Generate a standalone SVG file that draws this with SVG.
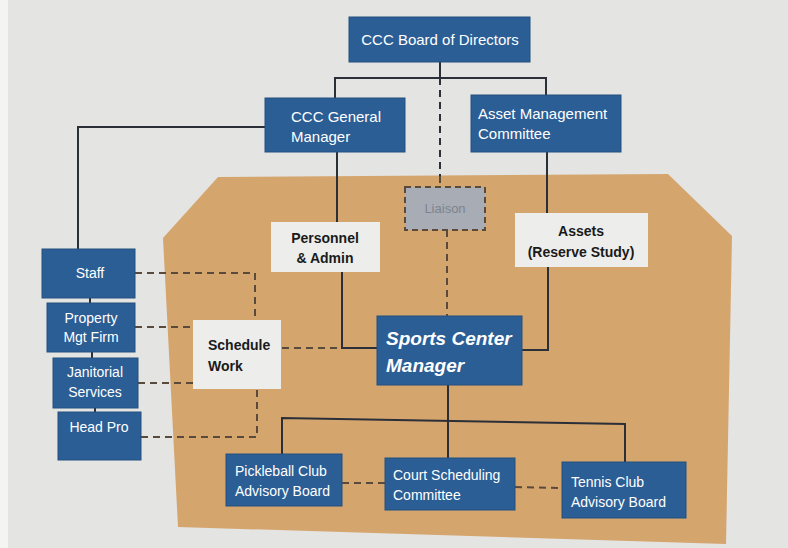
<svg xmlns="http://www.w3.org/2000/svg" width="788" height="548" viewBox="0 0 788 548">
<style>
.blue{fill:#2b5e95;stroke:#24507f;stroke-width:1}
.wt{fill:#ffffff;font-family:"Liberation Sans",Arial,sans-serif;font-size:15px}
.ws{fill:#ffffff;font-family:"Liberation Sans",Arial,sans-serif;font-size:14px}
.big{fill:#ffffff;font-family:"Liberation Sans",Arial,sans-serif;font-size:19px;font-weight:bold;font-style:italic}
.light{fill:#ededeb}
.bt{fill:#1a1a1a;font-family:"Liberation Sans",Arial,sans-serif;font-size:14px;font-weight:bold}
.ln{fill:none;stroke:#2b2f38;stroke-width:2}
.ds{fill:none;stroke:#5a4a3c;stroke-width:2;stroke-dasharray:7,5}
.dk{fill:none;stroke:#2b2f38;stroke-width:2;stroke-dasharray:7,5}
</style>
<rect width="788" height="548" fill="#e4e4e2"/>
<rect x="0" y="0" width="8" height="548" fill="#f4f4f3"/>
<polygon points="218,177 668,174 732,236 726,544 178,527 163,238" fill="#d5a56e"/>
<g id="connectors">
<polyline class="ln" points="440,62 440,78"/>
<polyline class="ln" points="335,98 335,78 546,78 546,95"/>
<polyline class="dk" points="440,78 440,176"/>
<polyline class="ds" points="440,176 440,186"/>
<polyline class="ln" points="265,127 78,127 78,249"/>
<polyline class="ln" points="90,298 90,303"/>
<polyline class="ln" points="92,352 92,358"/>
<polyline class="ln" points="95,408 95,412"/>
<polyline class="ln" points="337,152 337,222"/>
<polyline class="ln" points="342,272 342,348 377,348"/>
<polyline class="ds" points="282,348 342,348"/>
<polyline class="ln" points="547,152 547,213"/>
<polyline class="ln" points="548,267 548,350 522,350"/>
<polyline class="ds" points="447,230 447,316"/>
<polyline class="ds" points="135,273 255,273 255,320"/>
<polyline class="ds" points="135,327 193,327"/>
<polyline class="ds" points="138,383 193,383"/>
<polyline class="ds" points="141,437 257,437 257,389"/>
<polyline class="ln" points="448,385 448,420"/>
<polyline class="ln" points="282,454 282,418 625,424 625,462"/>
<polyline class="ln" points="448,420 448,458"/>
<polyline class="ds" points="342,483 385,483"/>
<polyline class="ds" points="515,487 562,488"/>
</g>
<g id="board"><rect class="blue" x="349" y="17" width="181" height="45"/><text class="wt" x="440" y="45" text-anchor="middle">CCC Board of Directors</text></g>
<g id="gm"><rect class="blue" x="265" y="98" width="140" height="54"/><text class="wt" x="291" y="122">CCC General</text><text class="wt" x="291" y="142">Manager</text></g>
<g id="amc"><rect class="blue" x="471" y="95" width="150" height="57"/><text class="wt" x="478" y="119">Asset Management</text><text class="wt" x="478" y="139">Committee</text></g>
<g id="liaison"><rect x="405" y="187" width="80" height="43" fill="#a8acb4" stroke="#5a4a3c" stroke-width="2" stroke-dasharray="6,4"/><text x="445" y="213" text-anchor="middle" fill="#7c8491" font-family="Liberation Sans,Arial,sans-serif" font-size="13">Liaison</text></g>
<g id="personnel"><rect class="light" x="271" y="222" width="109" height="50"/><text class="bt" x="325" y="243" text-anchor="middle">Personnel</text><text class="bt" x="325" y="263" text-anchor="middle">&amp; Admin</text></g>
<g id="assets"><rect class="light" x="515" y="213" width="133" height="54"/><text class="bt" x="581" y="236" text-anchor="middle">Assets</text><text class="bt" x="581" y="257" text-anchor="middle">(Reserve Study)</text></g>
<g id="staff"><rect class="blue" x="42" y="249" width="93" height="49"/><text class="ws" x="90" y="278" text-anchor="middle">Staff</text></g>
<g id="property"><rect class="blue" x="47" y="303" width="88" height="49"/><text class="ws" x="91" y="323" text-anchor="middle">Property</text><text class="ws" x="91" y="342" text-anchor="middle">Mgt Firm</text></g>
<g id="janitorial"><rect class="blue" x="53" y="358" width="85" height="50"/><text class="ws" x="95" y="377" text-anchor="middle">Janitorial</text><text class="ws" x="95" y="397" text-anchor="middle">Services</text></g>
<g id="headpro"><rect class="blue" x="58" y="412" width="83" height="48"/><text class="ws" x="99" y="432" text-anchor="middle">Head Pro</text></g>
<g id="schedule"><rect class="light" x="193" y="320" width="88" height="69"/><text class="bt" x="208" y="350">Schedule</text><text class="bt" x="208" y="371">Work</text></g>
<g id="scm"><rect class="blue" x="377" y="316" width="145" height="69"/><text class="big" x="386" y="345">Sports Center</text><text class="big" x="386" y="372">Manager</text></g>
<g id="pickleball"><rect class="blue" x="226" y="454" width="116" height="52"/><text class="ws" x="235" y="476">Pickleball Club</text><text class="ws" x="235" y="496">Advisory Board</text></g>
<g id="court"><rect class="blue" x="385" y="458" width="130" height="52"/><text class="ws" x="393" y="480">Court Scheduling</text><text class="ws" x="393" y="500">Committee</text></g>
<g id="tennis"><rect class="blue" x="562" y="462" width="124" height="56"/><text class="ws" x="571" y="487">Tennis Club</text><text class="ws" x="571" y="507">Advisory Board</text></g>
</svg>
